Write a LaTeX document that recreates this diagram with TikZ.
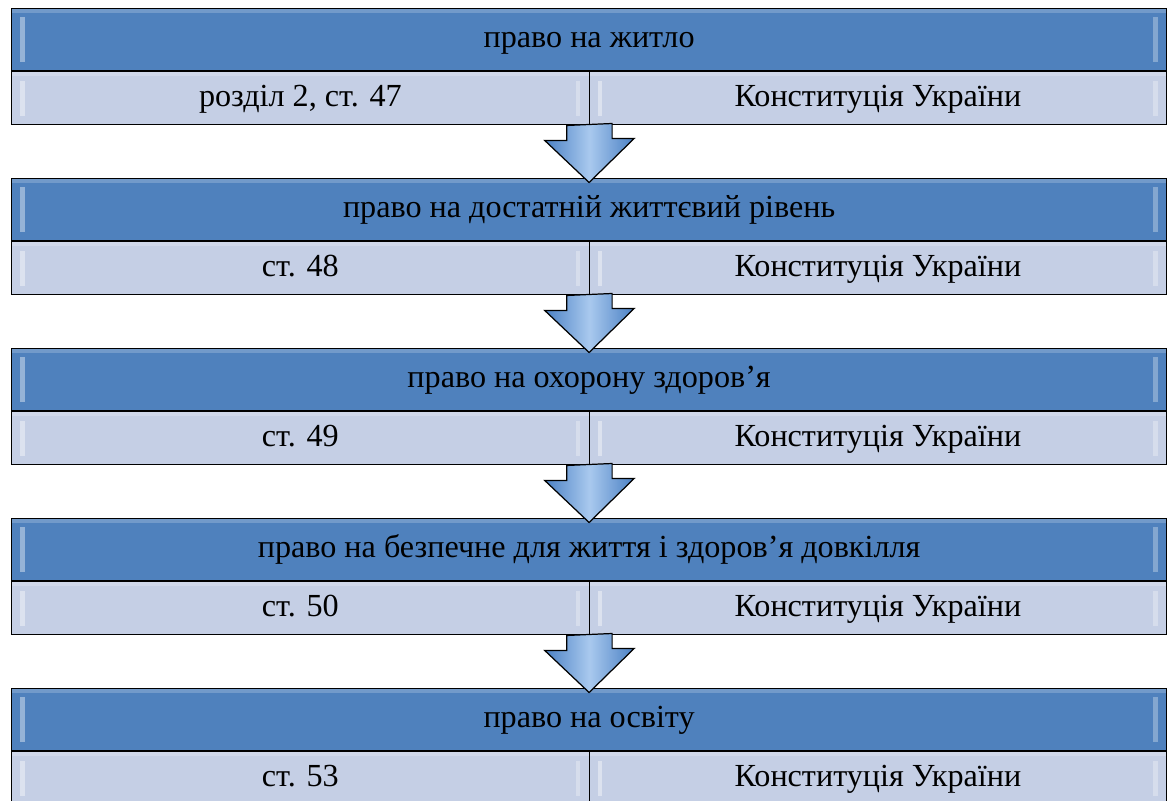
\documentclass[tikz,border=0pt]{standalone}
\usepackage{fontspec}
\setmainfont{Liberation Serif}
\usepackage{tikz}
\usetikzlibrary{calc, positioning}
\usepackage{xcolor}
\definecolor{hdrblue}{HTML}{4F81BD}
\definecolor{cellblue}{HTML}{C5CFE5}
\definecolor{arrowblue}{HTML}{4A80C4}
\definecolor{arrowlight}{HTML}{A9C9EE}

\begin{document}
\begin{tikzpicture}[
      every node/.style={font=\fontsize{18.3}{21}\selectfont, text height=1.1em, text depth=0.2em},
      bevel/.style={path picture={
          \fill[white, opacity=0.4] ([xshift=5pt,yshift=-5pt]path picture bounding box.north west) rectangle ([xshift=7.5pt,yshift=5pt]path picture bounding box.south west);
          \fill[white, opacity=0.3] ([xshift=-5pt,yshift=-5pt]path picture bounding box.north east) rectangle ([xshift=-7.5pt,yshift=5pt]path picture bounding box.south east);
          \fill[white, opacity=0.2] (path picture bounding box.north west) rectangle ([yshift=-2.5pt]path picture bounding box.north east);}},
      hdr/.style={rectangle, draw=black, line width=0.7pt, fill=hdrblue, bevel, minimum width=23.1cm, minimum height=1.24cm, inner sep=0pt, anchor=north west},
      cell/.style={rectangle, draw=black, line width=0.7pt, fill=cellblue, bevel, minimum width=11.55cm, minimum height=1.06cm, inner sep=0pt},
      downarrow/.style={draw=black, line width=0.7pt, line join=miter, left color=arrowblue, right color=arrowblue, middle color=arrowlight}
    ]

    \useasboundingbox (0,0) rectangle (23.4,-16.02);

    % Blocks
    \foreach \i/\right/\article in {1/{право на житло}/{розділ 2, ст. 47},
        2/{право на достатній життєвий рівень}/{ст. 48},
        3/{право на охорону здоров’я}/{ст. 49},
        4/{право на безпечне для життя і здоров’я довкілля}/{ст. 50},
        5/{право на освіту}/{ст. 53}} {
      \node[hdr] (hdr\i) at (0.22,{-0.16-3.4*(\i-1)}) {\right};
      \node[cell, anchor=north west] (art\i) at (hdr\i.south west) {\article};
      \node[cell, anchor=north east] (src\i) at (hdr\i.south east) {Конституція України};
    }

    % Arrows
    \foreach \i in {1,...,4} {
      \pgfmathtruncatemacro\j{\i+1}
      \coordinate (tip\i) at ([yshift=-0.09cm]hdr\j.north);
      \draw[downarrow] ($(art\i.south east)+(-0.46,0)$) -- ++(0,-0.3) -- ++(-0.44,0)
        -- (tip\i) -- ++(0.9,0.88) -- ++(-0.44,0) -- ++(0,0.3) -- cycle;
    }

\end{tikzpicture}
\end{document}
